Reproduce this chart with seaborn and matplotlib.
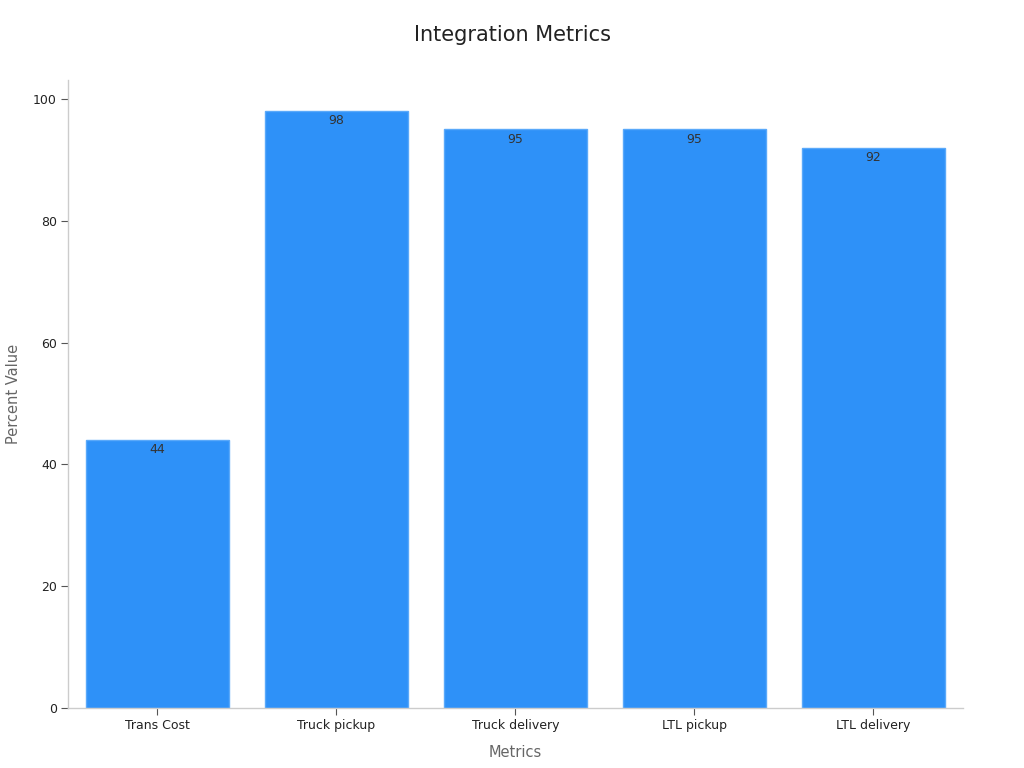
import pandas as pd
import seaborn as sns
import matplotlib.pyplot as plt

metrics = ["Trans Cost", "Truck pickup", "Truck delivery", "LTL pickup", "LTL delivery"]
values = [44, 98, 95, 95, 92]

data = pd.DataFrame({"Metrics": metrics, "Percent Value": values})

sns.set_style("white")
plt.rcParams["font.family"] = ["DejaVu Sans"]

fig = plt.figure(figsize=(10.24, 7.68), dpi=100)
ax = fig.add_axes([0.0664, 0.0781, 0.874, 0.8177])

sns.barplot(data=data, x="Metrics", y="Percent Value", color="#2e91f8",
            saturation=1, width=0.8, edgecolor="#5aa9fa", linewidth=1, ax=ax)

for i, v in enumerate(values):
    ax.text(i, v - 1.6, str(v), ha="center", va="center", fontsize=9, color="#333333")

ax.set_xlim(-0.5, 4.5)
ax.set_ylim(0, 103.1)
ax.set_yticks([0, 20, 40, 60, 80, 100])
ax.tick_params(axis="both", bottom=True, left=True, labelsize=9, labelcolor="#222222",
               length=5, width=0.8, color="#555555", pad=3)
for s in ["top", "right"]:
    ax.spines[s].set_visible(False)
for s in ["left", "bottom"]:
    ax.spines[s].set_color("#cccccc")
    ax.spines[s].set_linewidth(1)

ax.set_xlabel("Metrics", fontsize=10.5, color="#666666", labelpad=9)
ax.set_ylabel("Percent Value", fontsize=10.5, color="#666666", labelpad=9)
fig.suptitle("Integration Metrics", fontsize=15, color="#222222", y=0.968)

fig.savefig("out.png", dpi=100)
